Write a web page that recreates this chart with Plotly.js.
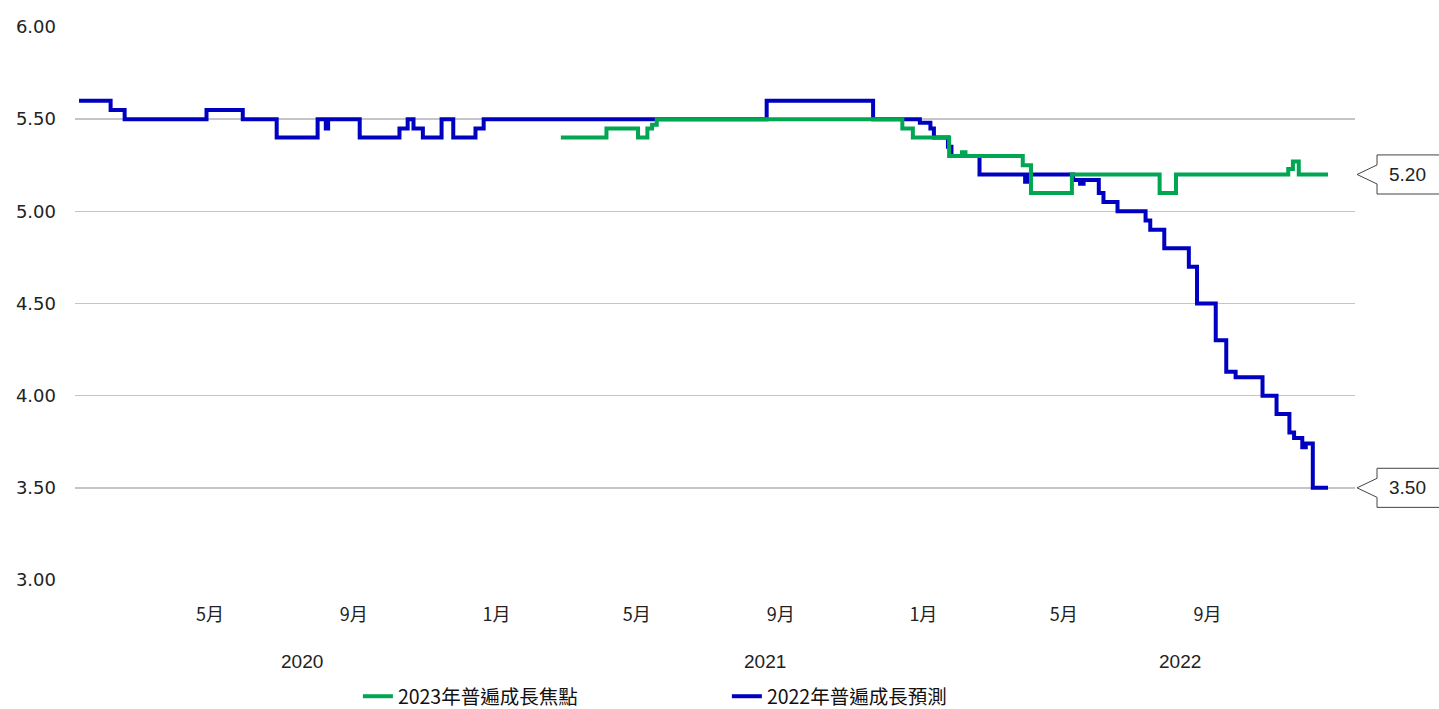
<!DOCTYPE html>
<html>
<head>
<meta charset="utf-8">
<script src="https://cdn.plot.ly/plotly-3.0.1.min.js"></script>
<style>html,body{margin:0;padding:0;background:#fff;}#chart{width:1439px;height:709px;}</style>
</head>
<body>
<div id="chart"></div>
<script>
// ---- data ----
const seriesNames = ['2022年普遍成長預測', '2023年普遍成長焦點'];
const blueDates = ['2020-01-10','2020-02-06','2020-02-18','2020-04-28','2020-05-29','2020-06-27','2020-08-01','2020-08-08','2020-08-10','2020-09-06','2020-10-10','2020-10-17','2020-10-22','2020-10-30','2020-11-15','2020-11-25','2020-12-14','2020-12-21','2021-08-20','2021-11-19','2021-12-29','2022-01-07','2022-01-10','2022-01-22','2022-01-25','2022-02-18','2022-03-29','2022-04-01','2022-05-09','2022-05-15','2022-05-18','2022-05-31','2022-06-04','2022-06-16','2022-07-10','2022-07-14','2022-07-26','2022-08-16','2022-08-23','2022-09-08','2022-09-17','2022-09-25','2022-10-18','2022-10-30','2022-11-10','2022-11-14','2022-11-21','2022-11-24','2022-11-30','2022-12-13'];
const blueValues = [5.60,5.55,5.50,5.55,5.50,5.40,5.50,5.45,5.50,5.40,5.45,5.50,5.45,5.40,5.50,5.40,5.45,5.50,5.60,5.50,5.48,5.45,5.40,5.35,5.30,5.20,5.16,5.20,5.17,5.15,5.17,5.10,5.05,5.00,4.95,4.90,4.80,4.70,4.50,4.30,4.13,4.10,4.00,3.90,3.80,3.77,3.72,3.74,3.50,3.50];
const greenDates = ['2021-02-25','2021-04-05','2021-05-02','2021-05-10','2021-05-14','2021-05-18','2021-12-14','2021-12-23','2022-01-23','2022-02-03','2022-02-06','2022-03-27','2022-04-03','2022-05-08','2022-07-22','2022-08-05','2022-11-09','2022-11-13','2022-11-18','2022-12-13'];
const greenValues = [5.40,5.45,5.40,5.45,5.47,5.50,5.45,5.40,5.30,5.32,5.30,5.25,5.10,5.20,5.10,5.20,5.23,5.27,5.20,5.20];
const tickDates = ['2020-05-01','2020-09-01','2021-01-01','2021-05-01','2021-09-01','2022-01-01','2022-05-01','2022-09-01'];
const tickLabels = ['5月','9月','1月','5月','9月','1月','5月','9月'];
const yearLabels = ['2020','2021','2022'];

// ---- styles ----
const BLUE = '#0000C0', GREEN = '#00A651';
const yearX = [0.1773, 0.539, 0.863];

const traces = [
  {x: blueDates, y: blueValues, name: seriesNames[0], type: 'scatter', mode: 'lines',
   line: {color: BLUE, width: 4, shape: 'hv'}, hoverinfo: 'x+y'},
  {x: greenDates, y: greenValues, name: seriesNames[1], type: 'scatter', mode: 'lines',
   line: {color: GREEN, width: 4, shape: 'hv'}, hoverinfo: 'x+y'}
];

function callout(v) {
  const x0 = 1.0016, xb = 1.0172, xr = 1.09, h = 0.106, n = 0.0515;
  return {type: 'path', xref: 'paper', yref: 'y', layer: 'above',
    path: `M ${xb},${v+h} L ${xr},${v+h} L ${xr},${v-h} L ${xb},${v-h} L ${xb},${v-n} L ${x0},${v} L ${xb},${v+n} Z`,
    fillcolor: '#ffffff', line: {color: '#444444', width: 1}};
}
const lastBlue = blueValues[blueValues.length - 1];
const lastGreen = greenValues[greenValues.length - 1];

const annotations = yearLabels.map((t, i) => ({
  text: t, xref: 'paper', yref: 'paper', x: yearX[i], y: -0.1465,
  xanchor: 'center', yanchor: 'middle', showarrow: false,
  font: {family: 'Liberation Sans, Arial, sans-serif', size: 19, color: '#222'}
}));
[lastGreen, lastBlue].forEach(v => annotations.push({
  text: v.toFixed(2), xref: 'paper', yref: 'y', x: 1.0414, y: v,
  xanchor: 'center', yanchor: 'middle', showarrow: false,
  font: {family: 'Liberation Sans, Arial, sans-serif', size: 19, color: '#222'}
}));

const layout = {
  width: 1439, height: 709,
  margin: {l: 75, r: 84, t: 27, b: 129, autoexpand: false},
  paper_bgcolor: '#ffffff', plot_bgcolor: '#ffffff',
  font: {family: '"Noto Sans CJK TC", "Liberation Sans", sans-serif', color: '#222'},
  showlegend: true,
  legend: {orientation: 'h', traceorder: 'reversed', x: 0.221, xanchor: 'left', y: -0.1755, yanchor: 'top',
    entrywidth: 324, entrywidthmode: 'pixels', itemwidth: 30,
    font: {family: '"Noto Sans CJK TC", sans-serif', size: 19.5, color: '#111'}},
  xaxis: {type: 'date', range: ['2020-01-06 13:00', '2023-01-05 02:00'],
    tickmode: 'array', tickvals: tickDates, ticktext: tickLabels,
    showgrid: false, zeroline: false, showline: false, ticks: '',
    ticklabelstandoff: 22, automargin: false,
    tickfont: {family: '"Noto Sans CJK TC", sans-serif', size: 18, color: '#222'}},
  yaxis: {range: [3, 6], dtick: 0.5, tick0: 3, tickformat: '.2f',
    showgrid: true, gridcolor: '#c4c4ca', gridwidth: 1.5, automargin: false,
    zeroline: false, showline: false, ticks: '', ticklabelstandoff: 18,
    tickfont: {family: '"DejaVu Sans", sans-serif', size: 18, color: '#222'}},
  shapes: [callout(lastGreen), callout(lastBlue)],
  annotations: annotations
};

Plotly.newPlot('chart', traces, layout, {displayModeBar: false, staticPlot: true});
</script>
</body>
</html>
